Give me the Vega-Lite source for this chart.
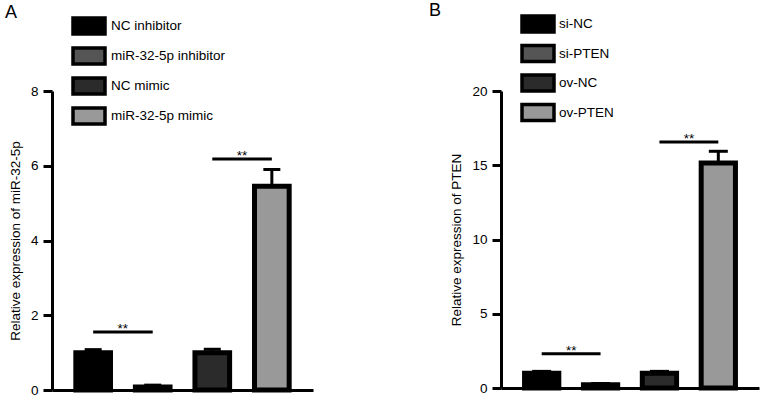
{
  "$schema": "https://vega.github.io/schema/vega-lite/v6.json",
  "padding": {"left": 5, "top": 2, "right": 5, "bottom": 5},
  "spacing": 116,
  "resolve": {"scale": {"color": "independent", "x": "independent", "y": "independent"}, "legend": {"color": "independent"}},
  "config": {
    "view": {"stroke": null},
    "font": "Liberation Sans"
  },
  "datasets": {
    "barsA": [
      {"group": "NC inhibitor", "mean": 1.0, "hi": 1.08},
      {"group": "miR-32-5p inhibitor", "mean": 0.08, "hi": 0.13},
      {"group": "NC mimic", "mean": 1.0, "hi": 1.09},
      {"group": "miR-32-5p mimic", "mean": 5.45, "hi": 5.9}
    ],
    "sigA": [
      {"g1": "NC inhibitor", "g2": "miR-32-5p inhibitor", "y": 1.55, "label": "**"},
      {"g1": "NC mimic", "g2": "miR-32-5p mimic", "y": 6.18, "label": "**"}
    ],
    "barsB": [
      {"group": "si-NC", "mean": 1.0, "hi": 1.12},
      {"group": "si-PTEN", "mean": 0.22, "hi": 0.3},
      {"group": "ov-NC", "mean": 1.0, "hi": 1.12},
      {"group": "ov-PTEN", "mean": 15.15, "hi": 15.94}
    ],
    "sigB": [
      {"g1": "si-NC", "g2": "si-PTEN", "y": 2.3, "label": "**"},
      {"g1": "ov-NC", "g2": "ov-PTEN", "y": 16.56, "label": "**"}
    ]
  },
  "hconcat": [
    {
      "width": 261,
      "height": 299,
      "title": {"text": "A", "anchor": "start", "frame": "group", "dx": -47, "offset": -6, "fontSize": 18, "font": "Liberation Sans", "fontWeight": "normal", "color": "black"},
      "layer": [
        {
          "data": {"name": "barsA"},
          "mark": {"type": "bar", "stroke": "black", "strokeWidth": 5, "opacity": 1},
          "encoding": {
            "x": {"field": "group", "type": "nominal", "sort": null,
              "scale": {"domain": ["NC inhibitor", "miR-32-5p inhibitor", "NC mimic", "miR-32-5p mimic"], "paddingInner": 0.418, "paddingOuter": 0.4},
              "axis": {"title": null, "labels": false, "ticks": false, "domainColor": "black", "domainWidth": 3}},
            "y": {"field": "mean", "type": "quantitative",
              "scale": {"domain": [0, 8], "nice": false},
              "axis": {"title": "Relative expression of miR-32-5p", "values": [0, 2, 4, 6, 8], "grid": false, "domainColor": "black", "domainWidth": 3, "tickColor": "black", "tickWidth": 3, "tickSize": 9, "labelFontSize": 13.5, "labelFont": "Liberation Sans", "labelColor": "black", "labelPadding": 5, "titleFontSize": 13.5, "titleFont": "Liberation Sans", "titleFontWeight": "normal", "titleColor": "black", "titlePadding": 8}},
            "color": {"field": "group", "type": "nominal", "sort": null,
              "scale": {"domain": ["NC inhibitor", "miR-32-5p inhibitor", "NC mimic", "miR-32-5p mimic"], "range": ["#000000", "#555555", "#2b2b2b", "#999999"]},
              "legend": {"orient": "none", "legendX": 27, "legendY": -75, "title": null, "padding": 0, "symbolType": "M-2,-1H2V1H-2Z", "symbolSize": 256, "symbolStrokeColor": "black", "symbolStrokeWidth": 3.5, "symbolOpacity": 1, "labelFontSize": 13.5, "labelFont": "Liberation Sans", "labelColor": "black", "labelOffset": 12, "rowPadding": 0}}
          }
        },
        {
          "data": {"name": "barsA"},
          "mark": {"type": "rule", "color": "black", "strokeWidth": 3},
          "encoding": {
            "x": {"field": "group", "type": "nominal", "sort": null},
            "y": {"field": "mean", "type": "quantitative"},
            "y2": {"field": "hi"}
          }
        },
        {
          "data": {"name": "barsA"},
          "mark": {"type": "tick", "orient": "horizontal", "color": "black", "size": 17, "thickness": 3, "opacity": 1},
          "encoding": {
            "x": {"field": "group", "type": "nominal", "sort": null},
            "y": {"field": "hi", "type": "quantitative"}
          }
        },
        {
          "data": {"name": "sigA"},
          "mark": {"type": "rule", "color": "black", "strokeWidth": 3},
          "encoding": {
            "x": {"field": "g1", "type": "nominal"},
            "x2": {"field": "g2"},
            "y": {"field": "y", "type": "quantitative"}
          }
        },
        {
          "data": {"name": "sigA"},
          "mark": {"type": "text", "color": "black", "fontSize": 13.5, "font": "Liberation Sans", "baseline": "alphabetic", "dx": 29.6, "dy": 1},
          "encoding": {
            "x": {"field": "g1", "type": "nominal"},
            "y": {"field": "y", "type": "quantitative"},
            "text": {"field": "label"}
          }
        }
      ]
    },
    {
      "width": 258,
      "height": 297,
      "title": {"text": "B", "anchor": "start", "frame": "group", "dx": -72, "offset": -6, "fontSize": 18, "font": "Liberation Sans", "fontWeight": "normal", "color": "black"},
      "layer": [
        {
          "data": {"name": "barsB"},
          "mark": {"type": "bar", "stroke": "black", "strokeWidth": 5, "opacity": 1},
          "encoding": {
            "x": {"field": "group", "type": "nominal", "sort": null,
              "scale": {"domain": ["si-NC", "si-PTEN", "ov-NC", "ov-PTEN"], "paddingInner": 0.418, "paddingOuter": 0.4},
              "axis": {"title": null, "labels": false, "ticks": false, "domainColor": "black", "domainWidth": 3}},
            "y": {"field": "mean", "type": "quantitative",
              "scale": {"domain": [0, 20], "nice": false},
              "axis": {"title": "Relative expression of PTEN", "values": [0, 5, 10, 15, 20], "grid": false, "domainColor": "black", "domainWidth": 3, "tickColor": "black", "tickWidth": 3, "tickSize": 9, "labelFontSize": 13.5, "labelFont": "Liberation Sans", "labelColor": "black", "labelPadding": 5, "titleFontSize": 13.5, "titleFont": "Liberation Sans", "titleFontWeight": "normal", "titleColor": "black", "titlePadding": 8}},
            "color": {"field": "group", "type": "nominal", "sort": null,
              "scale": {"domain": ["si-NC", "si-PTEN", "ov-NC", "ov-PTEN"], "range": ["#000000", "#555555", "#2b2b2b", "#999999"]},
              "legend": {"orient": "none", "legendX": 27, "legendY": -77, "title": null, "padding": 0, "symbolType": "M-2,-1H2V1H-2Z", "symbolSize": 256, "symbolStrokeColor": "black", "symbolStrokeWidth": 3.5, "symbolOpacity": 1, "labelFontSize": 13.5, "labelFont": "Liberation Sans", "labelColor": "black", "labelOffset": 11, "rowPadding": -0.5}}
          }
        },
        {
          "data": {"name": "barsB"},
          "mark": {"type": "rule", "color": "black", "strokeWidth": 3},
          "encoding": {
            "x": {"field": "group", "type": "nominal", "sort": null},
            "y": {"field": "mean", "type": "quantitative"},
            "y2": {"field": "hi"}
          }
        },
        {
          "data": {"name": "barsB"},
          "mark": {"type": "tick", "orient": "horizontal", "color": "black", "size": 19, "thickness": 3, "opacity": 1},
          "encoding": {
            "x": {"field": "group", "type": "nominal", "sort": null},
            "y": {"field": "hi", "type": "quantitative"}
          }
        },
        {
          "data": {"name": "sigB"},
          "mark": {"type": "rule", "color": "black", "strokeWidth": 3},
          "encoding": {
            "x": {"field": "g1", "type": "nominal"},
            "x2": {"field": "g2"},
            "y": {"field": "y", "type": "quantitative"}
          }
        },
        {
          "data": {"name": "sigB"},
          "mark": {"type": "text", "color": "black", "fontSize": 13.5, "font": "Liberation Sans", "baseline": "alphabetic", "dx": 29.5, "dy": 1},
          "encoding": {
            "x": {"field": "g1", "type": "nominal"},
            "y": {"field": "y", "type": "quantitative"},
            "text": {"field": "label"}
          }
        }
      ]
    }
  ]
}
